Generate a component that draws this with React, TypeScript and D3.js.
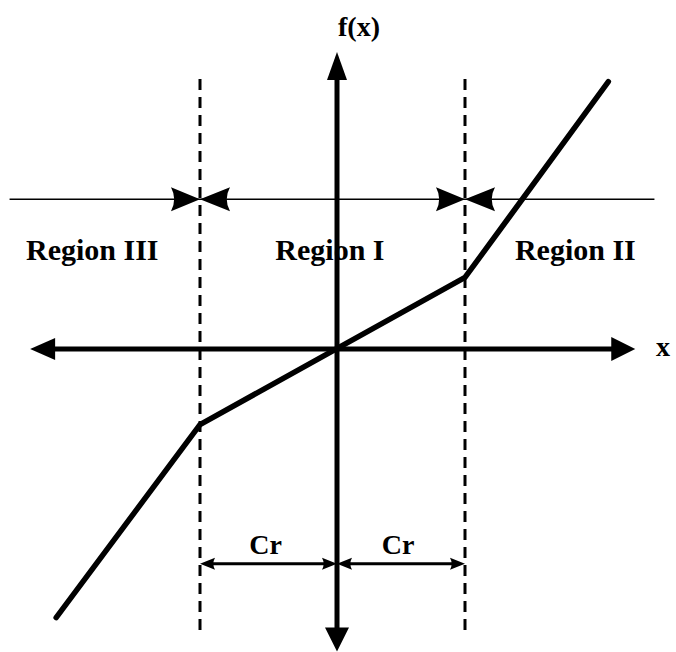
import React from "react";
import * as d3 from "d3";

// Data (in units of Cr for x, arbitrary units for f(x))
const boundaries = [-1, 1];
const curveX = [-2.05, -1, 1, 2.12];
const curveY = [-1.99, -0.56, 0.53, 1.98];
const regionLabels = ["Region III", "Region I", "Region II"];
const regionLabelX = [-2.27, -0.45, 1.39];
const dimLabel = "Cr";
const axisLabels = ["f(x)", "x"];

const W = 676;
const H = 652;

const xScale = d3.scaleLinear().domain([-1, 0, 1]).range([200, 337, 465]);
const yScale = d3.scaleLinear().domain([-2, 2]).range([349 + 270, 349 - 270]);

const line = d3
  .line<number>()
  .x((_, i) => xScale(curveX[i]))
  .y((d) => yScale(d));

function tri(tipX: number, tipY: number, dir: "up" | "down" | "left" | "right", len: number, half: number) {
  switch (dir) {
    case "up":
      return `M${tipX},${tipY} L${tipX - half},${tipY + len} L${tipX + half},${tipY + len} Z`;
    case "down":
      return `M${tipX},${tipY} L${tipX - half},${tipY - len} L${tipX + half},${tipY - len} Z`;
    case "left":
      return `M${tipX},${tipY} L${tipX + len},${tipY - half} L${tipX + len},${tipY + half} Z`;
    default:
      return `M${tipX},${tipY} L${tipX - len},${tipY - half} L${tipX - len},${tipY + half} Z`;
  }
}

function concave(tipX: number, tipY: number, dir: 1 | -1, len: number, half: number) {
  // dir 1 points right, -1 points left
  const bx = tipX - dir * len;
  const cx = tipX - dir * len * 0.78;
  return `M${tipX},${tipY} L${bx},${tipY - half} Q${cx},${tipY} ${bx},${tipY + half} Z`;
}

export default function App() {
  const x0 = xScale(0);
  const y0 = yScale(0);
  const hLeft = xScale(-2.24);
  const hRight = xScale(2.33);
  const vTop = yScale(2.2);
  const vBottom = yScale(-2.24);
  const thrY = yScale(1.11);
  const dimY = yScale(-1.59);
  const font = "'Liberation Serif', 'Times New Roman', serif";

  return (
    <svg
      width={W}
      height={H}
      style={{ position: "absolute", left: 0, top: 0, background: "#fff" }}
    >
      <rect width={W} height={H} fill="#fff" />
      {/* dashed boundaries */}
      {boundaries.map((b) => (
        <line
          key={b}
          x1={xScale(b)}
          x2={xScale(b)}
          y1={yScale(2.0)}
          y2={yScale(-2.1)}
          stroke="#000"
          strokeWidth={3}
          strokeDasharray="11 7"
        />
      ))}
      {/* threshold thin line */}
      <line x1={xScale(-2.39)} x2={xScale(2.48)} y1={thrY} y2={thrY} stroke="#000" strokeWidth={1.5} />
      {boundaries.map((b) => (
        <g key={"bt" + b}>
          <path d={concave(xScale(b), thrY, 1, 29, 12)} fill="#000" />
          <path d={concave(xScale(b), thrY, -1, 30, 12)} fill="#000" />
        </g>
      ))}
      {/* axes */}
      <line x1={hLeft + 20} x2={hRight - 20} y1={y0} y2={y0} stroke="#000" strokeWidth={5} />
      <path d={tri(hLeft, y0, "left", 25, 11)} fill="#000" />
      <path d={tri(hRight, y0, "right", 24, 12)} fill="#000" />
      <line x1={x0} x2={x0} y1={vTop + 20} y2={vBottom - 20} stroke="#000" strokeWidth={5} />
      <path d={tri(x0, vTop, "up", 28, 10)} fill="#000" />
      <path d={tri(x0, vBottom, "down", 24, 12)} fill="#000" />
      {/* curve */}
      <path
        d={line(curveY) || ""}
        fill="none"
        stroke="#000"
        strokeWidth={5.5}
        strokeLinejoin="miter"
        strokeLinecap="round"
      />
      {/* Cr dimension arrows */}
      {[
        [-1, 0],
        [0, 1],
      ].map(([a, b], i) => {
        const xa = xScale(a);
        const xb = xScale(b);
        return (
          <g key={"dim" + i}>
            <line x1={xa + 8} x2={xb - 8} y1={dimY} y2={dimY} stroke="#000" strokeWidth={3} />
            <path d={concave(xa, dimY, -1, 15, 6)} fill="#000" />
            <path d={concave(xb, dimY, 1, 15, 6)} fill="#000" />
            <text
              x={(xa + xb) / 2 - 3}
              y={dimY - 10}
              textAnchor="middle"
              fontFamily={font}
              fontWeight="bold"
              fontSize={28}
            >
              {dimLabel}
            </text>
          </g>
        );
      })}
      {/* region labels */}
      {regionLabels.map((t, i) => (
        <text
          key={t}
          x={xScale(regionLabelX[i])}
          y={260}
          fontFamily={font}
          fontWeight="bold"
          fontSize={30}
        >
          {t}
        </text>
      ))}
      {/* axis labels */}
      <text x={x0 + 22} y={36} textAnchor="middle" fontFamily={font} fontWeight="bold" fontSize={28}>
        {axisLabels[0]}
      </text>
      <text x={656} y={356} fontFamily={font} fontWeight="bold" fontSize={28}>
        {axisLabels[1]}
      </text>
    </svg>
  );
}
